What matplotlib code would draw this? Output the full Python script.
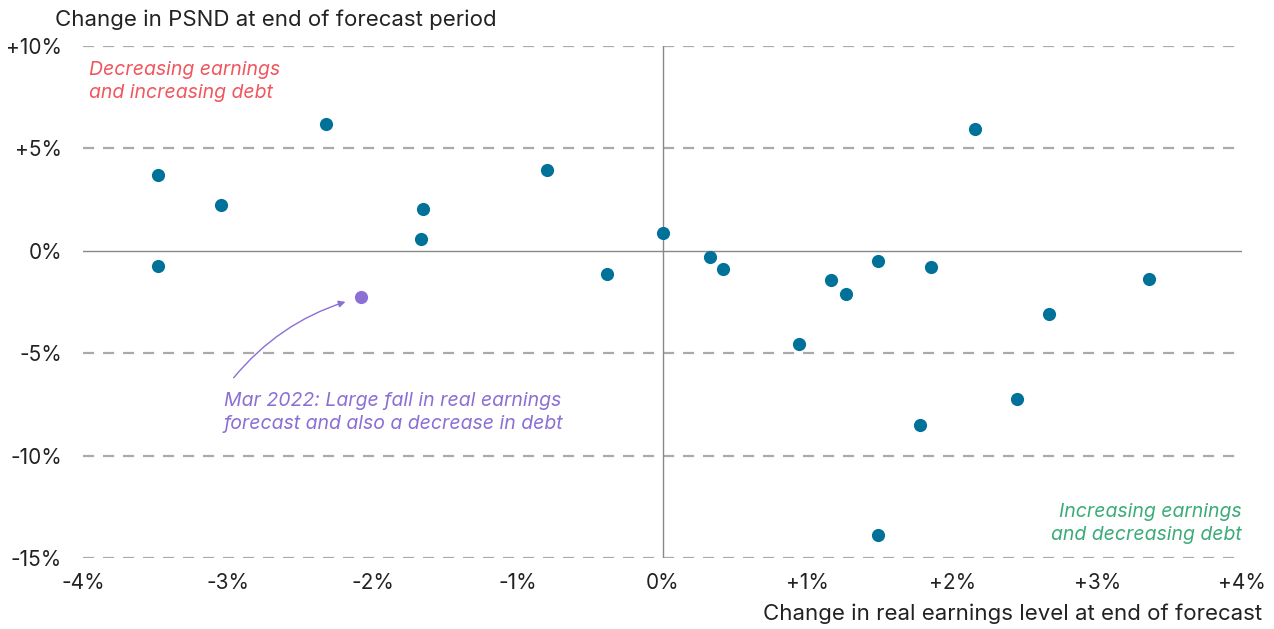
import matplotlib.pyplot as plt

# change in real earnings level (%), change in PSND (%)
earnings_change = [-3.48, -3.48, -3.05, -2.32, -1.65, -1.67, -0.80, -0.38, 0.0,
                   0.33, 0.42, 0.94, 1.16, 1.27, 1.49, 1.49, 1.78, 1.85, 2.16,
                   2.45, 2.67, 3.36]
psnd_change = [3.71, -0.73, 2.25, 6.2, 2.05, 0.59, 3.96, -1.12, 0.88,
               -0.29, -0.88, -4.54, -1.42, -2.10, -0.49, -13.87, -8.50, -0.78, 5.96,
               -7.23, -3.08, -1.37]
highlight_x = [-2.08]
highlight_y = [-2.25]

x_ticks = [-4, -3, -2, -1, 0, 1, 2, 3, 4]
x_labels = ["-4%", "-3%", "-2%", "-1%", "0%", "+1%", "+2%", "+3%", "+4%"]
y_ticks = [-15, -10, -5, 0, 5, 10]
y_labels = ["-15%", "-10%", "-5%", "0%", "+5%", "+10%"]

plt.rcParams["font.family"] = ["Inter", "DejaVu Sans"]

blue = "#00729a"
purple = "#8b6fd4"
red = "#f0565e"
green = "#3cab7a"
text_col = "#222222"

fig = plt.figure(figsize=(12.74, 6.29), dpi=100)
ax = fig.add_axes([83 / 1274, 1 - 558 / 629, (1242 - 83) / 1274, (558 - 46) / 629])

for y in y_ticks:
    if y == 0:
        ax.axhline(0, color="#888888", lw=1, zorder=1)
    else:
        ax.axhline(y, color="#aaaaaa", lw=1.6, ls=(0, (5, 4)), zorder=1)
ax.axvline(0, color="#888888", lw=1, zorder=1)

ax.scatter(earnings_change, psnd_change, s=90, color=blue, zorder=3, linewidths=0)
ax.scatter(highlight_x, highlight_y, s=90, color=purple, zorder=3, linewidths=0)

ax.set_xlim(-4, 4)
ax.set_ylim(-15, 10)
ax.set_xticks(x_ticks)
ax.set_xticklabels(x_labels)
ax.set_yticks(y_ticks)
ax.set_yticklabels(y_labels)
ax.tick_params(length=0, labelsize=15, colors=text_col, pad=11)
ax.tick_params(axis="y", pad=15)
for sp in ax.spines.values():
    sp.set_visible(False)

fig.text(55 / 1274, 1 - 20 / 629, "Change in PSND at end of forecast period",
         fontsize=16, color=text_col, va="center", ha="left")
fig.text(1262 / 1274, 1 - 614 / 629, "Change in real earnings level at end of forecast",
         fontsize=16, color=text_col, va="center", ha="right")

ax.text(-3.96, 8.25, "Decreasing earnings\nand increasing debt", color=red,
        style="italic", fontsize=14, va="center", ha="left", linespacing=1.35)
ax.text(4.0, -13.3, "Increasing earnings\nand decreasing debt", color=green,
        style="italic", fontsize=14, va="center", ha="right", linespacing=1.35)
ax.text(-3.03, -7.9, "Mar 2022: Large fall in real earnings\nforecast and also a decrease in debt",
        color=purple, style="italic", fontsize=14, va="center", ha="left",
        linespacing=1.35)
ax.annotate("", xy=(-2.17, -2.45), xytext=(-2.96, -6.2),
            arrowprops=dict(arrowstyle="-|>", color=purple, lw=1,
                            connectionstyle="arc3,rad=-0.15",
                            shrinkA=0, shrinkB=2))

fig.savefig("out.png", dpi=100)
